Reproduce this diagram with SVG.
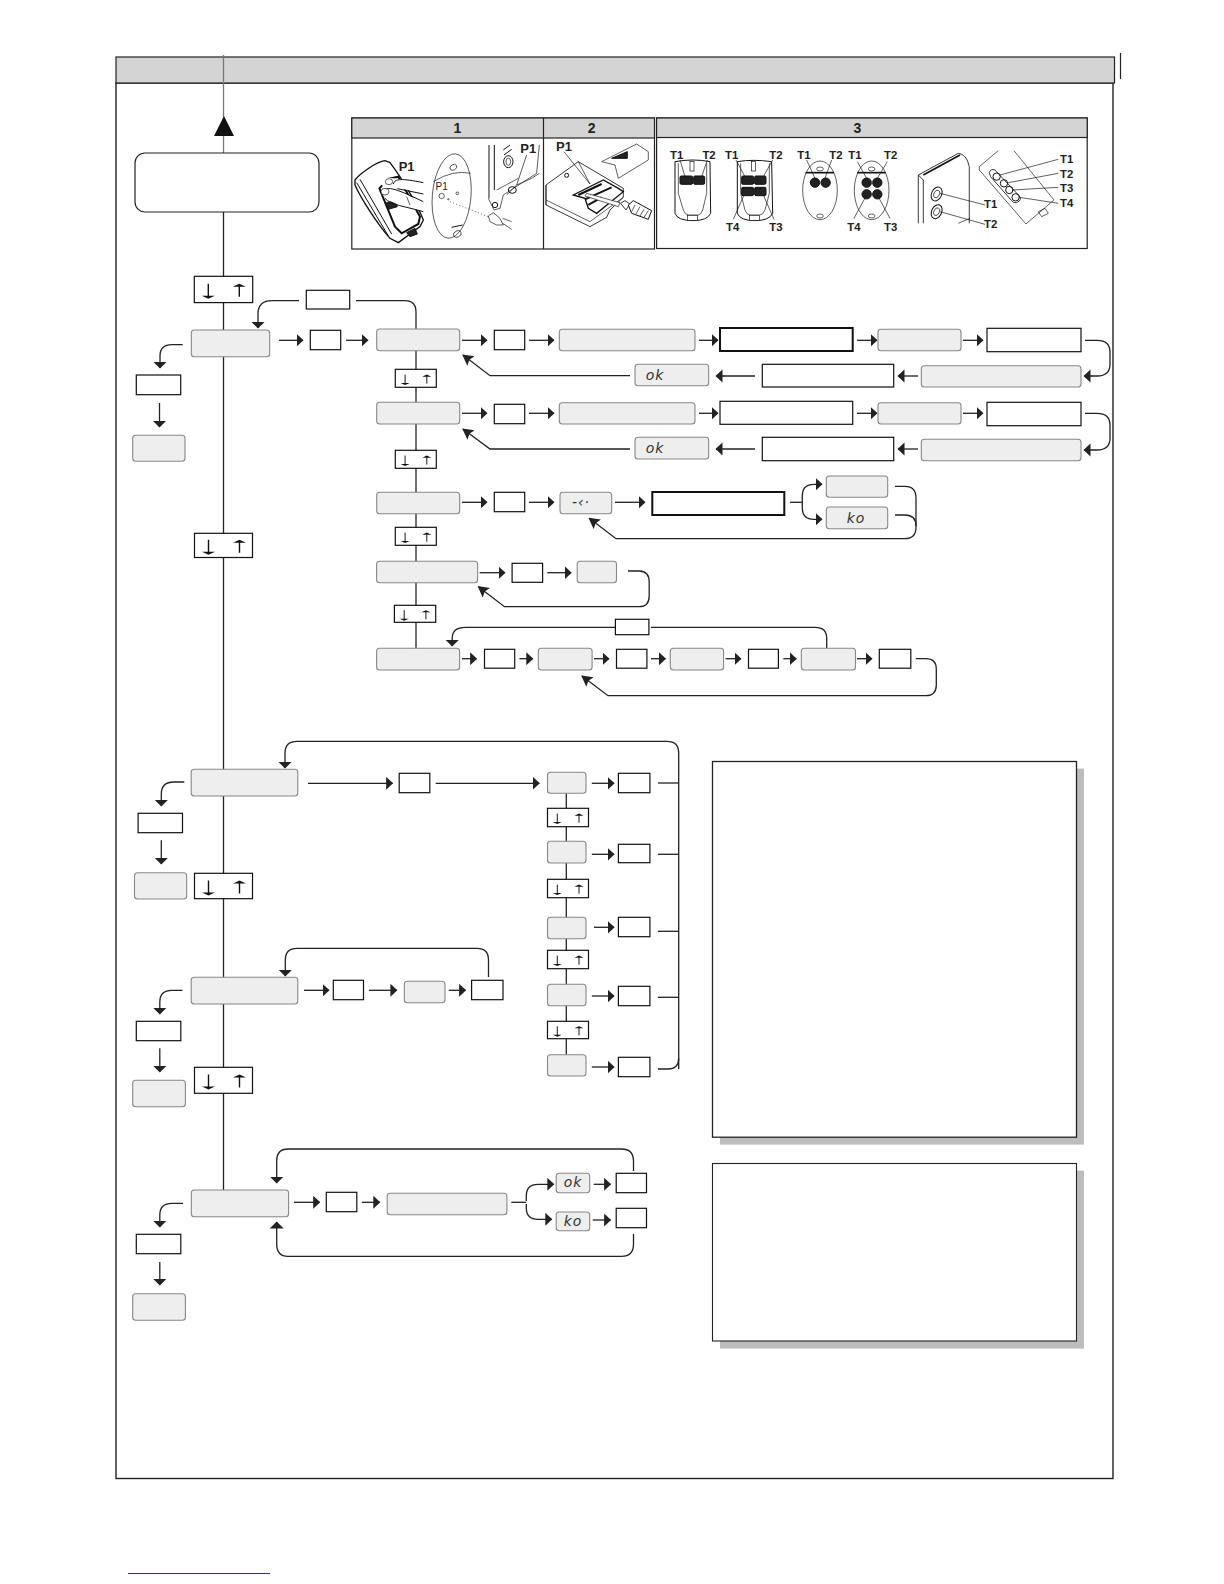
<svg xmlns="http://www.w3.org/2000/svg" xmlns:xlink="http://www.w3.org/1999/xlink" width="1224" height="1584" viewBox="0 0 1224 1584">
<style>
.n{fill:#eee;stroke:#888;stroke-width:1.1}
.b{fill:#fff;stroke:#111;stroke-width:1.2}
.t{fill:#fff;stroke:#111;stroke-width:2}
.c path,.c line{fill:none;stroke:#222;stroke-width:1.3}
.a path{marker-end:url(#h)}
.d path{marker-end:url(#v)}
.g path{marker-end:url(#g)}
.seg{font-family:"DejaVu Sans",sans-serif;font-style:italic;font-size:14px;letter-spacing:1px;fill:#333;text-anchor:middle}
.hd{font-family:"Liberation Sans",sans-serif;font-weight:bold;font-size:14px;fill:#222;text-anchor:middle}
.lb{font-family:"Liberation Sans",sans-serif;font-weight:bold;font-size:34px;fill:#222;text-anchor:middle}
.il path,.il line,.il ellipse,.il rect,.il polygon,.il circle{stroke:#111;stroke-width:3;fill:none}
.il .k{fill:#222}
.il .w{fill:#fff}
.il .l{stroke-width:2}
</style>
<defs>
<marker id="h" markerUnits="userSpaceOnUse" markerWidth="8" markerHeight="14" refX="6.5" refY="6.5" orient="auto"><polygon points="0,0 7,6.5 0,13" fill="#222"/></marker>
<marker id="v" markerUnits="userSpaceOnUse" markerWidth="8" markerHeight="16" refX="6.5" refY="7" orient="auto"><polygon points="0,0 7,7 0,14" fill="#222"/></marker>
<marker id="g" markerUnits="userSpaceOnUse" markerWidth="12" markerHeight="14" refX="10" refY="6" orient="auto"><polygon points="0,0 11,6 0,12 2,6" fill="#222"/></marker>
<g id="ud"><path d="M14 7.5V20M45 10V20.5" fill="none" stroke="#111" stroke-width="1.4"/><path d="M7.5 19.5H20.5L14 22.5ZM38.5 10.5H51.5L45 7.5Z" fill="#111"/></g>
</defs>
<rect width="1224" height="1584" fill="#fff"/>

<g id="frame">
<rect x="116" y="83" width="997" height="1395.5" fill="#fff" stroke="#222" stroke-width="1.4"/>
<rect x="116" y="57" width="998.5" height="26" fill="#d4d4d4" stroke="#222" stroke-width="1.2"/>
<line x1="1120.5" y1="53" x2="1120.5" y2="79" stroke="#222" stroke-width="1.2"/>
<line x1="128" y1="1573.5" x2="270" y2="1573.5" stroke="#336" stroke-width="1.2"/>
</g>

<g id="connectors" class="c">
<line x1="223.5" y1="55" x2="223.5" y2="153" style="stroke:#777"/>
<line x1="223.5" y1="212" x2="223.5" y2="1190"/>
<line x1="416" y1="340" x2="416" y2="662"/>
<line x1="566.3" y1="783" x2="566.3" y2="1060"/>
<path d="M299 300.7H272Q258 300.7 258 314V328" marker-end="url(#v)"/>
<path d="M356 300.7H405Q416 300.7 416 312V330"/>
<g class="d">
<path d="M182.7 344.7H172Q160 344.7 160 356V368"/>
<path d="M159.5 403V427"/>
<path d="M184.3 782H174Q161.3 782 161.3 794V806"/>
<path d="M161.3 840.3V864"/>
<path d="M182.5 990.3H172Q159.8 990.3 159.8 1002V1014"/>
<path d="M159.8 1048.3V1072"/>
<path d="M183 1203.3H172Q159.8 1203.3 159.8 1215V1227"/>
<path d="M159.8 1262V1285"/>
<path d="M678.7 1069V753Q678.7 741.3 667 741.3H297Q285 741.3 285 753V768"/>
<path d="M488.5 977V960Q488.5 948.3 477 948.3H297Q285.3 948.3 285.3 960V976"/>
<path d="M633.5 1171V1161Q633.5 1149 621.5 1149H288Q276.7 1149 276.7 1161V1183"/>
<path d="M633.5 1234V1244Q633.5 1256.3 621.5 1256.3H288Q276.7 1256.3 276.7 1244V1222"/>
<path d="M615 627.3H465.6Q452.2 627.3 452.2 638V646"/>
</g>
<path d="M651 627.3H815.2Q826.7 627.3 826.7 638V648"/>
<path d="M657.9 1069H668Q678.7 1069 678.7 1058"/>
<line x1="657.9" y1="783" x2="678.7" y2="783"/><line x1="657.9" y1="854.3" x2="678.7" y2="854.3"/><line x1="657.9" y1="931.3" x2="678.7" y2="931.3"/><line x1="657.9" y1="997.3" x2="678.7" y2="997.3"/>
<g class="a">
<path d="M279 340.3H303"/><path d="M346 340.3H368"/>
<path d="M462 340.3H487"/><path d="M529 340.3H554"/><path d="M699 340.3H718"/><path d="M857 340.3H877"/><path d="M963 340.3H983"/>
<path d="M1085 340.3H1097Q1110 340.3 1110 352V364Q1110 376 1097 376H1084"/>
<path d="M918 376H898"/><path d="M755 376H716"/>
<path d="M462 413.3H487"/><path d="M529 413.3H554"/><path d="M699 413.3H718"/><path d="M857 413.3H877"/><path d="M963 413.3H983"/>
<path d="M1085 413.3H1097Q1110 413.3 1110 425V438Q1110 450 1097 450H1084"/>
<path d="M918 449H898"/><path d="M755 449H716"/>
<path d="M462 502.3H487"/><path d="M529 502.3H554"/><path d="M615 502.3H645"/>
<path d="M802.3 502.3V496Q802.3 484.3 814 484.3H822"/>
<path d="M802.3 502.3V508Q802.3 519.3 814 519.3H822"/>
<path d="M479.6 572.7H505"/><path d="M547.3 572.7H571.2"/>
<path d="M462 658.7H476.6"/><path d="M519.4 658.7H532.8"/><path d="M594 658.7H609"/><path d="M651 658.7H665.5"/><path d="M725.6 658.7H741"/><path d="M783.3 658.7H796.3"/><path d="M857 658.7H872"/>
<path d="M308 783.3H392.6"/><path d="M435.7 783.3H539.3"/>
<path d="M591.8 783.3H614.1"/><path d="M591.8 854.3H614.1"/><path d="M594 927.3H614.1"/><path d="M591.8 996H614.1"/><path d="M591.8 1067H614.1"/>
<path d="M304 990.3H329"/><path d="M369 990.3H396.9"/><path d="M448.7 990.3H465.6"/>
<path d="M294 1202.3H319.7"/><path d="M361.9 1202.3H379.8"/>
<path d="M526.3 1201V1196Q526.3 1184.3 538 1184.3H553.8"/>
<path d="M526.3 1204V1208Q526.3 1219.3 538 1219.3H551.8"/>
<path d="M593.7 1184.3H610.6"/><path d="M592.7 1220H610.6"/>
</g>
<line x1="790" y1="502.3" x2="802.3" y2="502.3"/>
<line x1="511.3" y1="1202.3" x2="526.3" y2="1202.3"/>
<path d="M895 486.3H905Q916 486.3 916 498V527Q916 538.7 905 538.7"/>
<path d="M895 515H905Q916 515 916 526"/>
<g class="g">
<path d="M630 375.7H490L463 355"/>
<path d="M630 449H490L463 429"/>
<path d="M905 538.7H616L589.3 518.3"/>
<path d="M628 571H639Q649.2 571 649.2 582V596Q649.2 606.7 639 606.7H504.5L478.4 586.7"/>
<path d="M915.8 658.7H925.8Q936.3 658.7 936.3 669V685Q936.3 695.7 925.8 695.7H608L582 676"/>
</g>
</g>

<g id="start-arrow"><polygon points="224,116 214,136 234,136" fill="#111"/></g>
<g id="start"><rect x="135" y="153" width="184" height="59" rx="10" fill="#fff" stroke="#222" stroke-width="1.2"/></g>

<g id="main-updown-1"><rect class="b" x="194.3" y="276.3" width="58.4" height="26.3"/><use href="#ud" x="194.3" y="276.3"/></g>
<g id="main-updown-2"><rect class="b" x="194.5" y="533.3" width="58" height="24.2"/><use href="#ud" x="194.5" y="532.3"/></g>
<g id="main-updown-3"><rect class="b" x="194.5" y="873.3" width="58" height="25.4"/><use href="#ud" x="194.5" y="873"/></g>
<g id="main-updown-4"><rect class="b" x="194.5" y="1067.3" width="58" height="26"/><use href="#ud" x="194.5" y="1067"/></g>

<g id="menu-a"><rect class="b" x="306.3" y="290.3" width="43.4" height="18.7"/><rect class="n" x="191.3" y="330" width="78.4" height="26.7" rx="3"/><rect class="b" x="310.3" y="330.3" width="30.4" height="19.4"/><rect class="b" x="136.3" y="375" width="44.4" height="19.7"/><rect class="n" x="132.7" y="435.3" width="52.3" height="26" rx="3"/></g>

<g id="row-1">
<rect class="n" x="376.7" y="329" width="83" height="21.7" rx="3"/><rect class="b" x="494.3" y="330.3" width="30.4" height="19.4"/><rect class="n" x="559.3" y="329.3" width="135.7" height="21.4" rx="3"/><rect class="t" x="720" y="328" width="132.7" height="23"/><rect class="n" x="878" y="329.3" width="83" height="21.4" rx="3"/><rect class="b" x="987" y="328.3" width="94" height="23.4"/>
<rect class="n" x="921.3" y="365.7" width="159.7" height="21.3" rx="3"/><rect class="b" x="762.3" y="364.3" width="131.4" height="22.7"/><rect class="n" x="635" y="364.3" width="73.7" height="21.4" rx="3"/><text class="seg" x="655" y="380">ok</text>
</g>
<g id="row-2">
<rect class="n" x="376.7" y="402.3" width="83" height="21.7" rx="3"/><rect class="b" x="494.3" y="404.3" width="30.4" height="19.4"/><rect class="n" x="559.3" y="402.7" width="135.7" height="21.3" rx="3"/><rect class="b" x="720" y="401.3" width="132.7" height="23"/><rect class="n" x="878" y="402.7" width="83" height="21.3" rx="3"/><rect class="b" x="987" y="402.3" width="94" height="23.4"/>
<rect class="n" x="921.3" y="439.3" width="159.7" height="21.4" rx="3"/><rect class="b" x="762.3" y="437.3" width="131.4" height="23.4"/><rect class="n" x="635" y="437.3" width="73.7" height="21.7" rx="3"/><text class="seg" x="655" y="453">ok</text>
</g>
<g id="row-3">
<rect class="n" x="376.7" y="492.3" width="83" height="21.4" rx="3"/><rect class="b" x="494.3" y="492.3" width="30.4" height="19.4"/><rect class="n" x="560" y="492.3" width="51.7" height="21.4" rx="3"/><text class="seg" x="581" y="507">-‹·</text><rect class="t" x="652.3" y="492" width="132" height="23"/>
<rect class="n" x="826.3" y="476" width="61.4" height="21.3" rx="3"/><rect class="n" x="826.3" y="507" width="61.4" height="21.7" rx="3"/><text class="seg" x="856" y="523">ko</text>
</g>
<g id="row-4">
<rect class="n" x="376.6" y="561.3" width="101" height="21.4" rx="3"/><rect class="b" x="512.1" y="563.3" width="30.5" height="19"/><rect class="n" x="577.2" y="561.3" width="39.3" height="21.4" rx="3"/>
</g>
<g id="row-5">
<rect class="b" x="615.4" y="619.3" width="33.5" height="15.4"/>
<rect class="n" x="376.6" y="648.3" width="83" height="21.7" rx="3"/><rect class="b" x="484.5" y="649.3" width="30.2" height="18.9"/><rect class="n" x="538.3" y="648.3" width="53.8" height="21.7" rx="3"/><rect class="b" x="616.5" y="649.3" width="30.4" height="18.9"/><rect class="n" x="670.3" y="648.3" width="53.3" height="21.7" rx="3"/><rect class="b" x="748.5" y="649.3" width="29.9" height="18.9"/><rect class="n" x="801.3" y="648.3" width="54.2" height="21.7" rx="3"/><rect class="b" x="879.3" y="649.3" width="31.5" height="18.9"/>
</g>
<g id="sub-updown">
<rect class="b" x="395.3" y="369.3" width="41" height="18"/><use href="#ud" transform="translate(395.3 369.3) scale(.7)"/>
<rect class="b" x="395.3" y="450.3" width="41" height="18"/><use href="#ud" transform="translate(395.3 450.3) scale(.7)"/>
<rect class="b" x="395.3" y="527.3" width="41" height="18"/><use href="#ud" transform="translate(395.3 527.3) scale(.7)"/>
<rect class="b" x="394.4" y="605.3" width="41.3" height="17"/><use href="#ud" transform="translate(394.4 605) scale(.7)"/>
</g>

<g id="menu-c"><rect class="n" x="191.2" y="769.3" width="106.6" height="26.7" rx="3"/><rect class="b" x="138.1" y="813.3" width="44.4" height="19.4"/><rect class="n" x="134.5" y="872.7" width="52.2" height="26.3" rx="3"/><rect class="b" x="399.2" y="773.3" width="30.6" height="19.4"/></g>
<g id="col">
<rect class="n" x="547.5" y="772.3" width="38.5" height="21" rx="3"/><rect class="b" x="618.4" y="773.3" width="31.5" height="19.4"/>
<rect class="n" x="547.5" y="841.3" width="38.5" height="21.7" rx="3"/><rect class="b" x="618.4" y="844.3" width="31.5" height="18.4"/>
<rect class="n" x="547.5" y="917.3" width="38.5" height="21.4" rx="3"/><rect class="b" x="618.4" y="917.3" width="31.5" height="19.4"/>
<rect class="n" x="547.5" y="984.3" width="38.5" height="21.4" rx="3"/><rect class="b" x="618.4" y="986.3" width="31.5" height="19.4"/>
<rect class="n" x="547.5" y="1054.7" width="38.5" height="21.3" rx="3"/><rect class="b" x="618.4" y="1057.3" width="31.5" height="19.4"/>
<rect class="b" x="547.5" y="808.3" width="41" height="18.4"/><use href="#ud" transform="translate(547.5 808.3) scale(.7)"/>
<rect class="b" x="547.5" y="879.3" width="41" height="18.4"/><use href="#ud" transform="translate(547.5 879.3) scale(.7)"/>
<rect class="b" x="547.5" y="950.3" width="41" height="18.4"/><use href="#ud" transform="translate(547.5 950.3) scale(.7)"/>
<rect class="b" x="547.5" y="1021.3" width="41" height="17.4"/><use href="#ud" transform="translate(547.5 1021) scale(.7)"/>
</g>
<g id="menu-d"><rect class="n" x="191.2" y="977.3" width="106.6" height="26.7" rx="3"/><rect class="b" x="333.3" y="980.3" width="30.2" height="19.4"/><rect class="n" x="404.3" y="981.3" width="40.7" height="21.4" rx="3"/><rect class="b" x="471.6" y="980.3" width="31.4" height="19.4"/><rect class="b" x="136.3" y="1021.3" width="44.5" height="19.4"/><rect class="n" x="132.7" y="1080.3" width="52.7" height="26.4" rx="3"/></g>
<g id="menu-e"><rect class="n" x="191.3" y="1190" width="97.3" height="26.7" rx="3"/><rect class="b" x="326.3" y="1192.3" width="30.5" height="19.4"/><rect class="n" x="387.2" y="1193.3" width="119.7" height="21.4" rx="3"/><rect class="n" x="556.2" y="1173.3" width="33.5" height="19.4" rx="3"/><text class="seg" x="573" y="1187">ok</text><rect class="n" x="556.2" y="1212" width="33.5" height="18.7" rx="3"/><text class="seg" x="573" y="1226">ko</text><rect class="b" x="616.2" y="1173.3" width="30.3" height="19.4"/><rect class="b" x="616.2" y="1208.3" width="30.3" height="19.4"/><rect class="b" x="136.3" y="1234.3" width="44.5" height="19.4"/><rect class="n" x="132.7" y="1293.7" width="52.7" height="26.6" rx="3"/></g>

<g id="note-1"><rect x="720" y="768.6" width="364" height="376" fill="#bdbdbd"/><rect x="712.5" y="761.5" width="364" height="375.7" fill="#fff" stroke="#222" stroke-width="1.3"/></g>
<g id="note-2"><rect x="720" y="1170.6" width="364" height="178" fill="#bdbdbd"/><rect x="712.5" y="1163.5" width="364" height="177.5" fill="#fff" stroke="#222" stroke-width="1.1"/></g>

<g id="panels">
<rect x="351.8" y="118" width="302.7" height="131" fill="#fff" stroke="#222" stroke-width="1.2"/>
<rect x="351.8" y="118" width="302.7" height="20" fill="#d4d4d4" stroke="#222" stroke-width="1.2"/>
<line x1="543.5" y1="118" x2="543.5" y2="249" stroke="#222" stroke-width="1.2"/>
<rect x="656.6" y="118" width="430.6" height="130.5" fill="#fff" stroke="#222" stroke-width="1.2"/>
<rect x="656.6" y="118" width="430.6" height="19.5" fill="#d4d4d4" stroke="#222" stroke-width="1.2"/>
<text class="hd" x="457.5" y="133">1</text><text class="hd" x="591.7" y="133">2</text><text class="hd" x="857.5" y="133">3</text>
</g>

<g id="illustration-1-2" class="il" transform="translate(340 110) scale(.3333)">
<path class="w" style="stroke-width:4" d="M45 210C60 190 110 155 135 152L150 158C190 210 235 290 250 330L240 350L175 398L150 385C110 340 60 260 45 225Z"/>
<path d="M60 208L155 372M50 218L145 378"/>
<path style="stroke-width:6" d="M118 235L145 207L175 200L240 320L235 342L185 370L165 350Z"/>
<path class="k" d="M135 280L165 272L172 290L145 298Z"/>
<path class="k" d="M200 368L225 355L232 372L210 380Z"/>
<path class="w" d="M118 215C125 200 140 200 250 218V250L165 232C140 235 125 230 118 215Z" style="stroke:none"/>
<path d="M160 222C165 205 185 205 250 218M172 236L250 252"/>
<path class="w" d="M125 250C130 228 160 232 250 275V305C200 290 150 285 125 250Z" style="stroke:none"/>
<path d="M128 250C135 225 160 232 250 275M135 265C150 285 200 290 250 305"/>
<ellipse cx="147" cy="215" rx="11" ry="9" class="w" style="stroke-width:2"/><ellipse cx="135" cy="245" rx="12" ry="10" class="w" style="stroke-width:2"/>
<path class="l" d="M205 255L220 262M200 260L210 285"/>
<ellipse cx="335" cy="258" rx="58" ry="127" transform="rotate(5 335 258)" style="stroke-width:2"/>
<path class="l" d="M280 215Q340 178 392 190"/><ellipse cx="340" cy="172" rx="11" ry="8" transform="rotate(-30 340 172)" class="l"/>
<circle cx="305" cy="258" r="8" class="l"/><circle cx="352" cy="250" r="4" class="l"/><circle cx="325" cy="268" r="2" class="l"/>
<path class="l" d="M330 275L445 320" stroke-dasharray="3 7"/>
<path class="w l" d="M445 318L460 308L480 325L490 345L470 345L450 335Z"/><path class="l" d="M488 325L515 335M488 340L515 358"/>
<ellipse cx="352" cy="372" rx="12" ry="9" transform="rotate(-25 352 372)" class="l"/><line x1="335" y1="352" x2="368" y2="345"/>
<path d="M447 105V265M463 105V240"/><path class="l" d="M445 265L462 300L480 295L490 255L590 190L598 105M470 240L535 205M500 255L530 225L575 205L598 190"/>
<ellipse cx="505" cy="155" rx="14" ry="18"/><ellipse cx="505" cy="155" rx="7" ry="11" class="l"/><path d="M490 120L510 105M492 135L515 118"/>
<ellipse cx="517" cy="240" rx="12" ry="10"/><circle cx="465" cy="285" r="8"/>
<line class="l" x1="560" y1="135" x2="530" y2="225"/>
<text class="lb" x="200" y="183" style="font-size:39px">P1</text><text class="lb" x="305" y="240" style="font-size:30px;font-weight:normal">P1</text><text class="lb" x="565" y="130" style="font-size:39px">P1</text><text class="lb" x="672" y="124" style="font-size:39px">P1</text>
<path class="w" d="M618 225L715 155L850 235V262L810 300L800 322L750 350L618 285Z" style="stroke-width:2.5"/>
<path class="l" d="M618 225V270L750 335L850 262M618 270V285M715 155L750 222"/><circle cx="680" cy="196" r="6"/>
<path style="stroke-width:4" d="M700 255L790 210L835 235L850 245L770 310L745 295L735 265Z"/>
<path style="stroke-width:6" d="M715 255L785 222M735 268L815 232M745 285L785 262"/>
<line class="l" x1="672" y1="125" x2="750" y2="222"/>
<path class="w l" d="M735 258L835 290L840 278L740 250Z"/>
<path class="w" d="M842 280L855 272L870 282L858 300Z" style="stroke-width:2.5"/>
<path class="w" d="M865 285L880 272L935 302L925 328L875 310Z" style="stroke-width:3"/><path class="l" d="M885 285L875 305M900 290L888 312M912 298L900 318M925 302L912 322"/>
<path class="w l" d="M785 155L890 102L925 125V150L835 205L825 165Z"/>
<polygon class="k" points="815,145 862,125 862,145"/>
</g>

<g id="illustration-3" class="il" transform="translate(650 110) scale(.3333)">
<g id="r1"><path d="M75 155Q130 145 180 155L182 310Q172 332 130 332Q82 332 75 310Z"/><path class="l" d="M85 160V250L100 300Q105 315 115 315H145Q152 315 158 300L170 250V160"/>
<rect class="l" x="120" y="155" width="12" height="28"/><rect class="k" x="90" y="198" width="38" height="25" rx="4"/><rect class="k" x="131" y="198" width="33" height="25" rx="4"/><rect class="w l" x="112" y="316" width="30" height="15"/>
<line class="l" x1="90" y1="150" x2="105" y2="200"/><line class="l" x1="172" y1="150" x2="155" y2="200"/></g>
<g id="r2"><path d="M262 155Q310 147 365 155L368 310Q358 332 315 332Q270 332 262 310Z"/><path class="l" d="M272 160V250L285 300Q290 315 300 315H330Q338 315 345 300L358 250V160"/>
<rect class="l" x="305" y="155" width="12" height="28"/><rect class="k" x="275" y="198" width="36" height="25" rx="4"/><rect class="k" x="314" y="198" width="34" height="25" rx="4"/><rect class="k" x="275" y="232" width="36" height="25" rx="4"/><rect class="k" x="314" y="232" width="34" height="25" rx="4"/><rect class="w l" x="298" y="316" width="30" height="15"/>
<path class="l" d="M258 150L285 200M368 150L340 200M250 328L282 255M372 328L340 255"/></g>
<ellipse cx="510" cy="241" rx="52" ry="88" class="l"/><line x1="467" y1="188" x2="552" y2="188" style="stroke-width:5"/><ellipse cx="510" cy="177" rx="10" ry="6" class="l"/><ellipse cx="510" cy="318" rx="10" ry="6" class="l"/>
<circle class="k" cx="495" cy="218" r="14"/><circle class="k" cx="527" cy="218" r="14"/><path class="l" d="M470 150L495 205M545 150L525 205"/>
<ellipse cx="665" cy="241" rx="52" ry="88" class="l"/><line x1="622" y1="188" x2="707" y2="188" style="stroke-width:5"/><ellipse cx="665" cy="177" rx="10" ry="6" class="l"/><ellipse cx="665" cy="318" rx="10" ry="6" class="l"/>
<circle class="k" cx="650" cy="218" r="14"/><circle class="k" cx="682" cy="218" r="14"/><circle class="k" cx="650" cy="253" r="14"/><circle class="k" cx="682" cy="253" r="14"/><path class="l" d="M622 155L650 205M712 155L682 205M612 325L650 255M720 325L682 255"/>
<path style="stroke-width:2.5" d="M805 340V195L925 130Q950 132 958 170V340M820 340V210L805 195"/><path style="stroke-width:5" d="M820 195L930 135"/>
<ellipse cx="860" cy="252" rx="15" ry="22" transform="rotate(25 860 252)"/><ellipse cx="860" cy="252" rx="8" ry="12" class="l" transform="rotate(25 860 252)"/><ellipse cx="860" cy="305" rx="15" ry="22" transform="rotate(25 860 305)"/><ellipse cx="860" cy="305" rx="8" ry="12" class="l" transform="rotate(25 860 305)"/>
<path class="l" d="M870 250L1005 285M870 305L1005 343M925 340L960 325"/>
<path style="stroke-width:2" d="M1045 122L988 170V180L1128 342L1212 270L1092 122"/>
<path style="stroke-width:2.5" d="M1018 188Q1022 175 1035 180L1108 258Q1118 270 1100 278Q1090 280 1085 272L1022 200Z"/>
<circle cx="1040" cy="200" r="11"/><circle cx="1062" cy="220" r="11"/><circle cx="1078" cy="240" r="11"/><circle cx="1097" cy="262" r="11"/>
<path class="l" d="M1050 195L1225 148M1075 218L1225 190M1088 240L1225 232M1108 262L1225 280M1165 305L1185 295L1195 310L1175 320Z"/>
<text class="lb" x="80" y="148">T1</text><text class="lb" x="177" y="148">T2</text><text class="lb" x="245" y="148">T1</text><text class="lb" x="378" y="148">T2</text><text class="lb" x="248" y="364">T4</text><text class="lb" x="378" y="364">T3</text>
<text class="lb" x="462" y="148">T1</text><text class="lb" x="558" y="148">T2</text><text class="lb" x="615" y="148">T1</text><text class="lb" x="722" y="148">T2</text><text class="lb" x="612" y="364">T4</text><text class="lb" x="722" y="364">T3</text>
<text class="lb" x="1022" y="295">T1</text><text class="lb" x="1022" y="355">T2</text><text class="lb" x="1250" y="160">T1</text><text class="lb" x="1250" y="204">T2</text><text class="lb" x="1250" y="247">T3</text><text class="lb" x="1250" y="291">T4</text>
</g>
</svg>
